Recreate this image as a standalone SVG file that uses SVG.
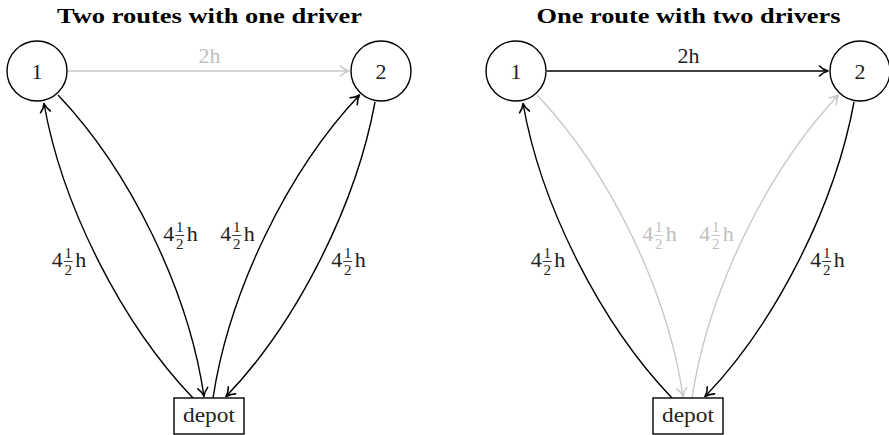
<svg xmlns="http://www.w3.org/2000/svg" width="889" height="435" viewBox="0 0 889 435">
<style>
.title{font-family:"Liberation Serif","Times New Roman",serif;font-weight:bold;font-size:22px;fill:#000;text-anchor:middle}
.nt{font-family:"Liberation Serif","Times New Roman",serif;font-size:22px;fill:#222;text-anchor:middle}
.lbl{font-family:"Liberation Serif","Times New Roman",serif;font-size:22px;fill:#222}
.fr{font-size:15px}
.node{fill:#fff;stroke:#000;stroke-width:1.4}
.e{fill:none;stroke:#000;stroke-width:1.4}
.eg{fill:none;stroke:#c8c8c8;stroke-width:1.4}
.g{fill:#c0c0c0}
.bar{stroke:#222;stroke-width:0.9}
.barg{stroke:#c0c0c0;stroke-width:0.9}
</style>
<defs>
<marker id="ah" markerUnits="userSpaceOnUse" viewBox="-11 -7 13 14" refX="0" refY="0" markerWidth="13" markerHeight="14" orient="auto">
<path d="M-8.5,-5 C-6.2,-2.6 -2.6,-0.7 0,0 C-2.6,0.7 -6.2,2.6 -8.5,5" fill="none" stroke="#000" stroke-width="1.6" stroke-linecap="round" stroke-linejoin="round"/>
</marker>
<marker id="ahg" markerUnits="userSpaceOnUse" viewBox="-11 -7 13 14" refX="0" refY="0" markerWidth="13" markerHeight="14" orient="auto">
<path d="M-8.5,-5 C-6.2,-2.6 -2.6,-0.7 0,0 C-2.6,0.7 -6.2,2.6 -8.5,5" fill="none" stroke="#c8c8c8" stroke-width="1.6" stroke-linecap="round" stroke-linejoin="round"/>
</marker>
</defs>

<!-- Left panel -->
<g id="panel-left">
<text class="title" x="209.5" y="23" textLength="305" lengthAdjust="spacingAndGlyphs">Two routes with one driver</text>
<g id="left-connectors">
<path class="eg" d="M68,71 L349,71" marker-end="url(#ahg)"/>
<path class="e" d="M193,398 C121.6,323.3 62,205.7 44,103.5" marker-end="url(#ah)"/>
<path class="e" d="M58,95 C130.3,171.1 188.7,291.1 204,396.5" marker-end="url(#ah)"/>
<path class="e" d="M213,398 C229.3,291.1 287.7,171.1 359.5,95" marker-end="url(#ah)"/>
<path class="e" d="M375,102 C356,205.7 296.4,323.3 226,396.5" marker-end="url(#ah)"/>
<text class="nt g" x="209.5" y="63">2h</text>
<g id="left-l1"><text class="lbl" x="51.7" y="267">4<tspan class="fr" x="64.45" y="258">1</tspan><tspan class="fr" x="64.45" y="274.5">2</tspan><tspan x="75.2" y="267">h</tspan></text><line class="bar" x1="63.7" y1="261.5" x2="72.7" y2="261.5"/></g>
<g id="left-l2"><text class="lbl" x="163.2" y="241">4<tspan class="fr" x="175.95" y="232">1</tspan><tspan class="fr" x="175.95" y="248.5">2</tspan><tspan x="186.7" y="241">h</tspan></text><line class="bar" x1="175.2" y1="235.5" x2="184.2" y2="235.5"/></g>
<g id="left-l3"><text class="lbl" x="220.2" y="241">4<tspan class="fr" x="232.95" y="232">1</tspan><tspan class="fr" x="232.95" y="248.5">2</tspan><tspan x="243.7" y="241">h</tspan></text><line class="bar" x1="232.2" y1="235.5" x2="241.2" y2="235.5"/></g>
<g id="left-l4"><text class="lbl" x="331.2" y="267">4<tspan class="fr" x="343.95" y="258">1</tspan><tspan class="fr" x="343.95" y="274.5">2</tspan><tspan x="354.7" y="267">h</tspan></text><line class="bar" x1="343.2" y1="261.5" x2="352.2" y2="261.5"/></g>
</g>
<g id="left-node1"><circle class="node" cx="37" cy="71" r="30"/><text class="nt" x="37" y="79">1</text></g>
<g id="left-node2"><circle class="node" cx="381" cy="71" r="30"/><text class="nt" x="381" y="79">2</text></g>
<g id="left-depot"><rect class="node" x="174" y="398" width="70" height="36"/><text class="nt" x="209" y="422" textLength="52" lengthAdjust="spacingAndGlyphs">depot</text></g>
</g>

<!-- Right panel -->
<g id="panel-right" transform="translate(479,0)">
<text class="title" x="209.5" y="23" textLength="304" lengthAdjust="spacingAndGlyphs">One route with two drivers</text>
<g id="right-connectors">
<path class="e" d="M68,71 L349,71" marker-end="url(#ah)"/>
<path class="e" d="M193,398 C121.6,323.3 62,205.7 44,103.5" marker-end="url(#ah)"/>
<path class="eg" d="M58,95 C130.3,171.1 188.7,291.1 204,396.5" marker-end="url(#ahg)"/>
<path class="eg" d="M213,398 C229.3,291.1 287.7,171.1 359.5,95" marker-end="url(#ahg)"/>
<path class="e" d="M375,102 C356,205.7 296.4,323.3 226,396.5" marker-end="url(#ah)"/>
<text class="nt" x="209.5" y="63">2h</text>
<g id="right-l1"><text class="lbl" x="51.7" y="267">4<tspan class="fr" x="64.45" y="258">1</tspan><tspan class="fr" x="64.45" y="274.5">2</tspan><tspan x="75.2" y="267">h</tspan></text><line class="bar" x1="63.7" y1="261.5" x2="72.7" y2="261.5"/></g>
<g id="right-l2"><text class="lbl g" x="163.2" y="241">4<tspan class="fr" x="175.95" y="232">1</tspan><tspan class="fr" x="175.95" y="248.5">2</tspan><tspan x="186.7" y="241">h</tspan></text><line class="barg" x1="175.2" y1="235.5" x2="184.2" y2="235.5"/></g>
<g id="right-l3"><text class="lbl g" x="220.2" y="241">4<tspan class="fr" x="232.95" y="232">1</tspan><tspan class="fr" x="232.95" y="248.5">2</tspan><tspan x="243.7" y="241">h</tspan></text><line class="barg" x1="232.2" y1="235.5" x2="241.2" y2="235.5"/></g>
<g id="right-l4"><text class="lbl" x="331.2" y="267">4<tspan class="fr" x="343.95" y="258">1</tspan><tspan class="fr" x="343.95" y="274.5">2</tspan><tspan x="354.7" y="267">h</tspan></text><line class="bar" x1="343.2" y1="261.5" x2="352.2" y2="261.5"/></g>
</g>
<g id="right-node1"><circle class="node" cx="37" cy="71" r="30"/><text class="nt" x="37" y="79">1</text></g>
<g id="right-node2"><circle class="node" cx="381" cy="71" r="30"/><text class="nt" x="381" y="79">2</text></g>
<g id="right-depot"><rect class="node" x="174" y="398" width="70" height="36"/><text class="nt" x="209" y="422" textLength="52" lengthAdjust="spacingAndGlyphs">depot</text></g>
</g>
</svg>
